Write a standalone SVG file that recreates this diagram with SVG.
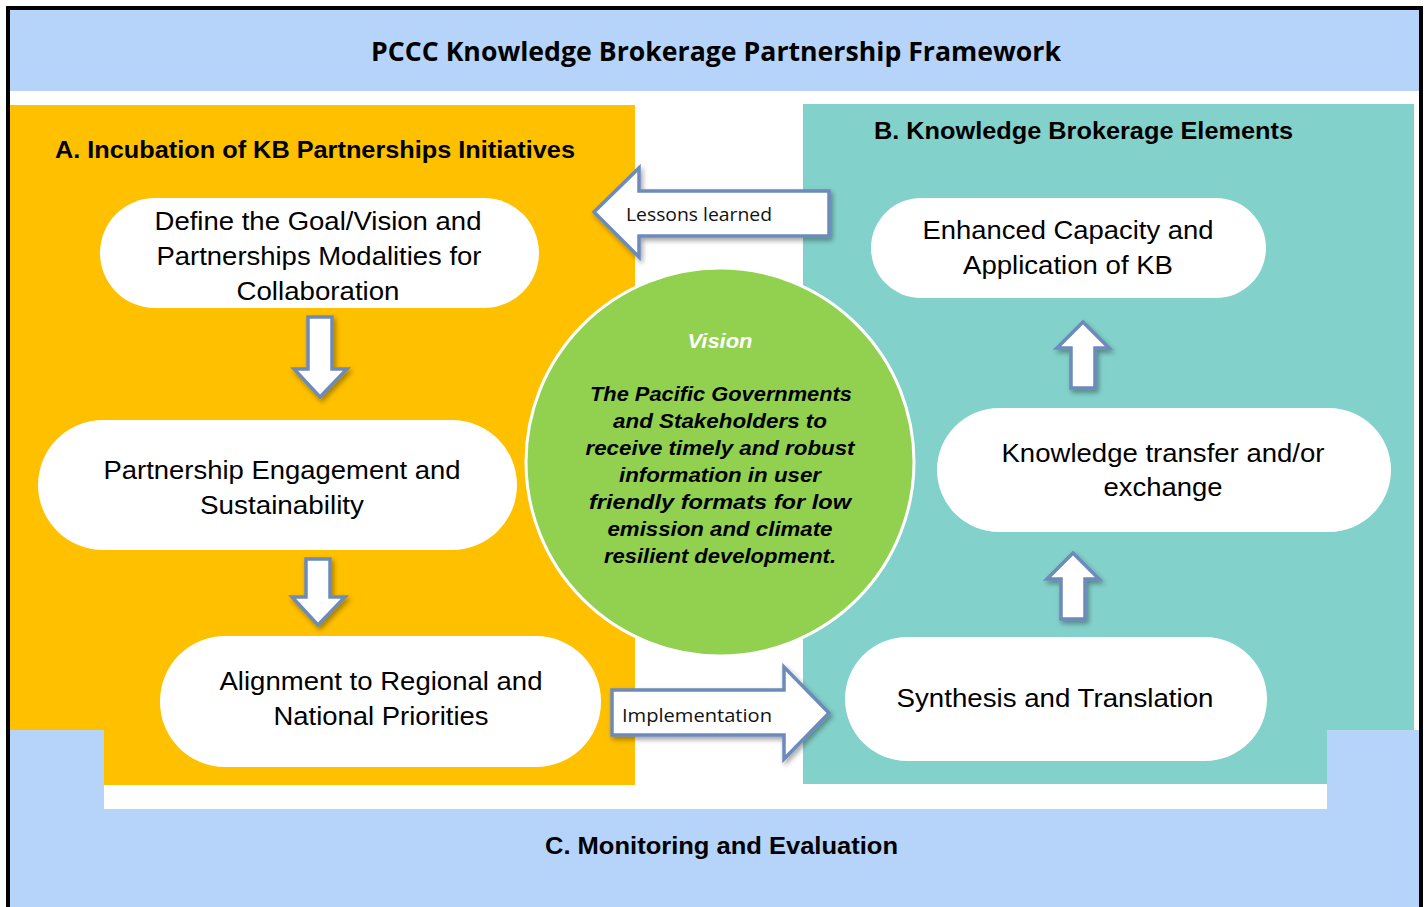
<svg xmlns="http://www.w3.org/2000/svg" width="1427" height="907" viewBox="0 0 1427 907">
<defs>
<filter id="sh" x="-20%" y="-20%" width="150%" height="150%">
<feDropShadow dx="2" dy="3" stdDeviation="2.5" flood-color="#000" flood-opacity="0.35"/>
</filter>
<style>
.band{fill:#B6D4F9}
.pill{fill:#FFFFFF}
.arr{fill:#FFFFFF;stroke:#6C8BBA;stroke-width:3.5;stroke-linejoin:miter;filter:url(#sh)}
.nt{font-family:"Liberation Sans",Arial,sans-serif;font-size:26px;fill:#000;text-anchor:middle}
.hd{font-family:"Liberation Sans",Arial,sans-serif;font-size:24px;font-weight:bold;fill:#000}
.cal{font-family:"Open Sans","Liberation Sans",sans-serif;font-size:19px;fill:#111}
.vis{font-family:"Liberation Sans",Arial,sans-serif;font-size:21px;font-weight:bold;font-style:italic;text-anchor:middle}
</style>
</defs>
<rect x="0" y="0" width="1427" height="907" fill="#FFFFFF"/>
<g id="title-band">
<rect class="band" x="10" y="10" width="1410" height="81"/>
<text x="716" y="61" font-family="'Open Sans','Liberation Sans',sans-serif" font-size="27" font-weight="bold" text-anchor="middle" textLength="690" lengthAdjust="spacingAndGlyphs">PCCC Knowledge Brokerage Partnership Framework</text>
</g>
<g id="panel-a">
<rect x="10" y="105" width="625" height="680" fill="#FFC000"/>
<text class="hd" x="55" y="158" textLength="520" lengthAdjust="spacingAndGlyphs">A. Incubation of KB Partnerships Initiatives</text>
</g>
<g id="panel-b">
<rect x="803" y="104" width="611" height="680" fill="#83D1CB"/>
<text class="hd" x="874" y="139" textLength="419" lengthAdjust="spacingAndGlyphs">B. Knowledge Brokerage Elements</text>
</g>
<g id="panel-c">
<path class="band" d="M10 730 H104 V809 H1327 V730 H1420 V907 H10 Z"/>
<text class="hd" x="545" y="854" textLength="353" lengthAdjust="spacingAndGlyphs">C. Monitoring and Evaluation</text>
</g>
<path d="M8 907 V8 H1421 V907" fill="none" stroke="#000" stroke-width="4"/>
<g id="vision">
<circle cx="720" cy="462" r="194" fill="#92D050" stroke="#FFFFFF" stroke-width="3"/>
<text class="vis" x="720" y="348" fill="#FFFFFF" textLength="65" lengthAdjust="spacingAndGlyphs">Vision</text>
<g fill="#000">
<text class="vis" x="721" y="401" textLength="262" lengthAdjust="spacingAndGlyphs">The Pacific  Governments</text>
<text class="vis" x="720" y="428" textLength="214" lengthAdjust="spacingAndGlyphs">and Stakeholders  to</text>
<text class="vis" x="720" y="455" textLength="269" lengthAdjust="spacingAndGlyphs">receive  timely and robust</text>
<text class="vis" x="720" y="482" textLength="202" lengthAdjust="spacingAndGlyphs">information  in user</text>
<text class="vis" x="720" y="509" textLength="262" lengthAdjust="spacingAndGlyphs">friendly  formats  for low</text>
<text class="vis" x="720" y="536" textLength="225" lengthAdjust="spacingAndGlyphs">emission  and climate</text>
<text class="vis" x="720" y="563" textLength="232" lengthAdjust="spacingAndGlyphs">resilient  development.</text>
</g>
</g>
<g id="node-define">
<rect class="pill" x="100" y="198" width="439" height="110" rx="55"/>
<text class="nt" x="318" y="230" textLength="327" lengthAdjust="spacingAndGlyphs">Define the Goal/Vision and</text>
<text class="nt" x="319" y="265" textLength="325" lengthAdjust="spacingAndGlyphs">Partnerships Modalities for</text>
<text class="nt" x="318" y="300" textLength="163" lengthAdjust="spacingAndGlyphs">Collaboration</text>
</g>
<g id="node-engagement">
<rect class="pill" x="38" y="420" width="479" height="130" rx="65"/>
<text class="nt" x="282" y="479" textLength="357" lengthAdjust="spacingAndGlyphs">Partnership Engagement and</text>
<text class="nt" x="282" y="514" textLength="164" lengthAdjust="spacingAndGlyphs">Sustainability</text>
</g>
<g id="node-alignment">
<rect class="pill" x="160" y="636" width="441" height="131" rx="65"/>
<text class="nt" x="381" y="690" textLength="323" lengthAdjust="spacingAndGlyphs">Alignment to Regional and</text>
<text class="nt" x="381" y="725" textLength="215" lengthAdjust="spacingAndGlyphs">National Priorities</text>
</g>
<g id="node-enhanced">
<rect class="pill" x="871" y="198" width="395" height="100" rx="50"/>
<text class="nt" x="1068" y="239" textLength="291" lengthAdjust="spacingAndGlyphs">Enhanced Capacity and</text>
<text class="nt" x="1068" y="274" textLength="210" lengthAdjust="spacingAndGlyphs">Application of KB</text>
</g>
<g id="node-transfer">
<rect class="pill" x="937" y="408" width="454" height="124" rx="62"/>
<text class="nt" x="1163" y="462" textLength="323" lengthAdjust="spacingAndGlyphs">Knowledge transfer and/or</text>
<text class="nt" x="1163" y="496" textLength="119" lengthAdjust="spacingAndGlyphs">exchange</text>
</g>
<g id="node-synthesis">
<rect class="pill" x="845" y="637" width="422" height="124" rx="62"/>
<text class="nt" x="1055" y="707" textLength="317" lengthAdjust="spacingAndGlyphs">Synthesis and Translation</text>
</g>
<g id="connectors">
<path class="arr" d="M308 317 H332 V369 H347 L320 397 L294 369 H308 Z"/>
<path class="arr" d="M306 559 H330 V597 H345 L318 625 L292 597 H306 Z"/>
<path class="arr" d="M1071 388 H1095 V348 H1109 L1083 322 L1057 348 H1071 Z"/>
<path class="arr" d="M1061 619 H1085 V579 H1099 L1073 553 L1047 579 H1061 Z"/>
<path class="arr" d="M829 191 H639 V168 L594 212 L639 257 V236 H829 Z"/>
<path class="arr" d="M612 690 H784 V667 L829 713 L784 759 V735 H612 Z"/>
<text class="cal" x="626" y="221" textLength="146" lengthAdjust="spacingAndGlyphs">Lessons learned</text>
<text class="cal" x="622" y="722" textLength="150" lengthAdjust="spacingAndGlyphs">Implementation</text>
</g>
</svg>
